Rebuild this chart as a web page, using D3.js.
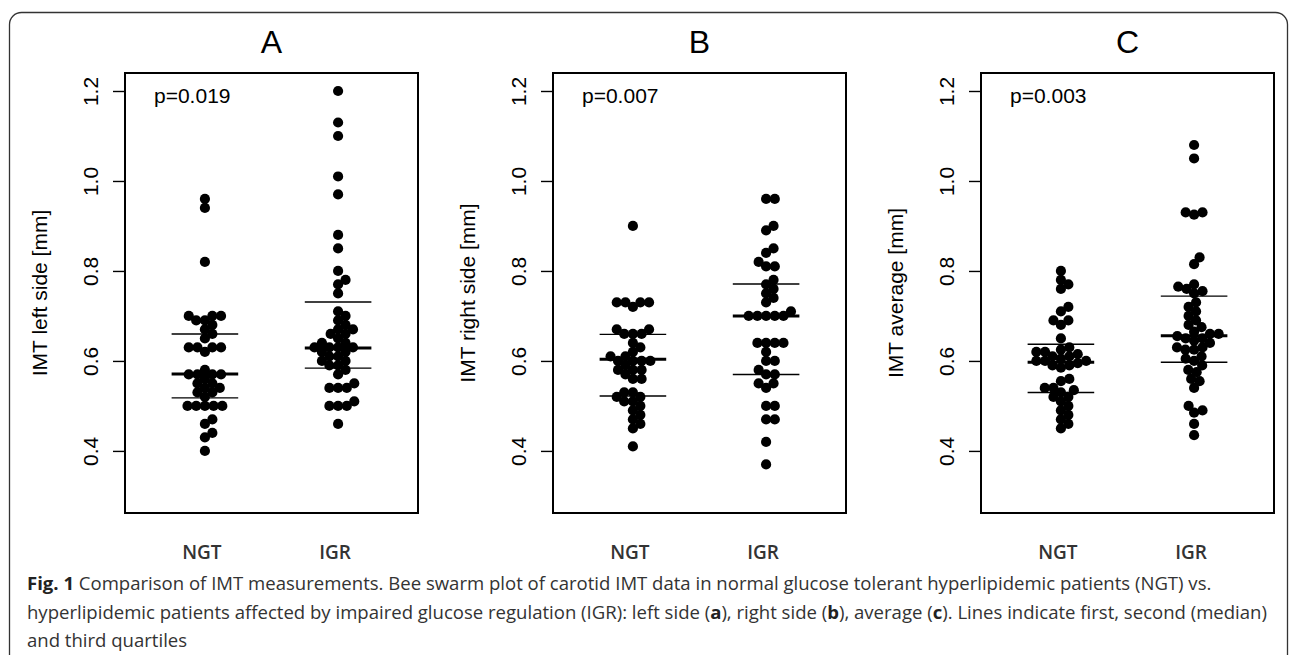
<!DOCTYPE html>
<html>
<head>
<meta charset="utf-8">
<script src="https://cdn.jsdelivr.net/npm/d3@7"></script>
<style>
  body { margin: 0; background: #fff; }
  svg { display: block; }
</style>
</head>
<body>
<svg id="fig"></svg>
<script>
const width = 1290;
const height = 655;

// panel labels and texts
const panelTitles = ["A", "B", "C"];
const yTitles = ["IMT left side [mm]", "IMT right side [mm]", "IMT average [mm]"];
const pTexts = ["p=0.019", "p=0.007", "p=0.003"];
const groups = ["NGT", "IGR"];
const yTicks = [0.4, 0.6, 0.8, 1.0, 1.2];

// IMT values (mm)
const leftNGT = [0.96, 0.94, 0.82,
  0.70, 0.70, 0.70, 0.69, 0.69, 0.68, 0.67, 0.66, 0.65,
  0.63, 0.63, 0.63, 0.63, 0.62,
  0.58, 0.57, 0.57, 0.57, 0.57, 0.56, 0.55, 0.55, 0.54, 0.54, 0.53, 0.53, 0.52,
  0.50, 0.50, 0.50, 0.50, 0.50,
  0.47, 0.46, 0.44, 0.43, 0.40];
const leftIGR = [1.20, 1.13, 1.10, 1.01, 0.97, 0.88, 0.85, 0.80, 0.78, 0.77, 0.75,
  0.71, 0.70, 0.69, 0.68, 0.67, 0.67, 0.66, 0.66, 0.65,
  0.64, 0.64, 0.63, 0.63, 0.63, 0.63, 0.62, 0.62,
  0.61, 0.61, 0.60, 0.60, 0.59, 0.59, 0.58,
  0.57, 0.55, 0.54, 0.54, 0.54,
  0.51, 0.50, 0.50, 0.50, 0.46];
const rightNGT = [0.90,
  0.73, 0.73, 0.73, 0.73, 0.72,
  0.67, 0.67, 0.66, 0.66, 0.66,
  0.64, 0.63, 0.62,
  0.61, 0.61, 0.60, 0.60, 0.60, 0.60, 0.59,
  0.58, 0.58, 0.58, 0.57, 0.56, 0.56,
  0.53, 0.53, 0.52, 0.52, 0.51, 0.51, 0.50,
  0.49, 0.48, 0.47, 0.46, 0.45, 0.41];
const rightIGR = [0.96, 0.96, 0.90, 0.89, 0.85, 0.84, 0.82, 0.81, 0.81,
  0.78, 0.77, 0.76, 0.75, 0.74, 0.73,
  0.71, 0.70, 0.70, 0.70, 0.70, 0.70,
  0.64, 0.64, 0.64, 0.64, 0.62,
  0.60, 0.60, 0.58, 0.57, 0.57, 0.55, 0.55, 0.54,
  0.50, 0.50, 0.47, 0.47, 0.42, 0.37];
const avgNGT = [0.80, 0.78, 0.77, 0.76,
  0.72, 0.71, 0.69, 0.69, 0.68, 0.65,
  0.63, 0.625, 0.62, 0.62, 0.615, 0.61, 0.61, 0.605, 0.60, 0.60, 0.60, 0.595, 0.59, 0.59, 0.585,
  0.56, 0.555, 0.54, 0.54, 0.535, 0.53, 0.52, 0.52, 0.51, 0.50, 0.49, 0.48, 0.47, 0.46, 0.45];
const avgIGR = [1.08, 1.05, 0.93, 0.93, 0.925, 0.83, 0.815, 0.77, 0.765, 0.76, 0.755, 0.75,
  0.73, 0.72, 0.71, 0.70, 0.69, 0.68, 0.675,
  0.665, 0.66, 0.66, 0.655, 0.65, 0.65, 0.645, 0.64, 0.63, 0.63, 0.625, 0.625,
  0.61, 0.605, 0.60, 0.59, 0.58, 0.575, 0.56, 0.555, 0.54,
  0.50, 0.49, 0.485, 0.46, 0.435];

// first quartile, median, third quartile (as drawn)
const leftNGTq = [0.518, 0.571, 0.660];
const leftIGRq = [0.584, 0.629, 0.731];
const rightNGTq = [0.522, 0.604, 0.659];
const rightIGRq = [0.570, 0.700, 0.771];
const avgNGTq = [0.530, 0.597, 0.637];
const avgIGRq = [0.597, 0.656, 0.744];

// caption pieces, [text, bold]
const captionLines = [
  [["Fig. 1", true], [" Comparison of IMT measurements. Bee swarm plot of carotid IMT data in normal glucose tolerant hyperlipidemic patients (NGT) vs.", false]],
  [["hyperlipidemic patients affected by impaired glucose regulation (IGR): left side (", false], ["a", true], ["), right side (", false], ["b", true], ["), average (", false], ["c", true], ["). Lines indicate first, second (median)", false]],
  [["and third quartiles", false]]
];

const panelData = [[leftNGT, leftIGR], [rightNGT, rightIGR], [avgNGT, avgIGR]];
const panelQ = [[leftNGTq, leftIGRq], [rightNGTq, rightIGRq], [avgNGTq, avgIGRq]];

const svg = d3.select("#fig").attr("width", width).attr("height", height);

// outer frame
svg.append("rect")
  .attr("x", 9.5).attr("y", 12.5)
  .attr("width", 1278).attr("height", 680)
  .attr("rx", 12)
  .attr("fill", "none").attr("stroke", "#333").attr("stroke-width", 1.3);

const boxLefts = [125, 553, 981];
const boxW = 293, boxTop = 73, boxBottom = 513;
const font = "'Liberation Sans', Arial, sans-serif";
const dotR = 5.1, spacing = 8.7;

// swarm layout like R's beeswarm (ascending priority)
function swarm(values, y) {
  const order = d3.range(values.length).sort((a, b) => values[a] - values[b]);
  const placed = [];
  const out = new Array(values.length);
  order.forEach(i => {
    const py = y(values[i]);
    const cands = [0];
    placed.forEach(p => {
      const dy = py - p.y;
      if (Math.abs(dy) < spacing) {
        const dx = Math.sqrt(spacing * spacing - dy * dy);
        cands.push(p.x + dx, p.x - dx);
      }
    });
    cands.sort((a, b) => Math.abs(a) - Math.abs(b));
    const px = cands.find(c => placed.every(p => {
      const ddx = c - p.x, ddy = py - p.y;
      return ddx * ddx + ddy * ddy >= spacing * spacing - 1e-6;
    }));
    placed.push({x: px, y: py});
    out[i] = {dx: px, y: py, v: values[i]};
  });
  return out;
}

panelTitles.forEach((title, k) => {
  const left = boxLefts[k];
  const g = svg.append("g");

  const y = d3.scaleLinear().domain([0.262, 1.24]).range([boxBottom, boxTop]);
  const x = d3.scaleLinear().domain([0.4, 2.6]).range([left, left + boxW]);

  // title
  g.append("text")
    .attr("x", left + boxW / 2).attr("y", 53)
    .attr("text-anchor", "middle")
    .attr("font-family", font).attr("font-size", 32)
    .text(title);

  // y axis
  const axis = g.append("g")
    .attr("transform", `translate(${left},0)`)
    .call(d3.axisLeft(y).tickValues(yTicks).tickFormat(d3.format(".1f")).tickSize(12));
  axis.select(".domain").remove();
  axis.selectAll("line").attr("stroke", "#000").attr("stroke-width", 1.4);
  axis.selectAll("text")
    .attr("x", null).attr("dy", null)
    .attr("transform", "translate(-27,0) rotate(-90)")
    .attr("text-anchor", "middle")
    .attr("font-family", font).attr("font-size", 21)
    .attr("fill", "#000");

  // y axis title
  g.append("text")
    .attr("transform", `translate(${left - 78},${(boxTop + boxBottom) / 2}) rotate(-90)`)
    .attr("text-anchor", "middle")
    .attr("font-family", font).attr("font-size", 21)
    .text(yTitles[k]);

  // p value
  g.append("text")
    .attr("x", left + 29).attr("y", 103)
    .attr("font-family", font).attr("font-size", 21)
    .text(pTexts[k]);

  groups.forEach((grp, j) => {
    const cx = x(j + 1);
    const pts = swarm(panelData[k][j], y);
    g.append("g")
      .selectAll("circle")
      .data(pts)
      .join("circle")
        .attr("cx", d => cx + d.dx)
        .attr("cy", d => d.y)
        .attr("r", dotR)
        .attr("fill", "#000");

    // quartile lines
    g.append("g")
      .selectAll("line")
      .data(panelQ[k][j])
      .join("line")
        .attr("x1", x(j + 1 - 0.25)).attr("x2", x(j + 1 + 0.25))
        .attr("y1", d => y(d)).attr("y2", d => y(d))
        .attr("stroke", "#000")
        .attr("stroke-width", (d, i) => i === 1 ? 3 : 1.4);

    // group label
    g.append("text")
      .attr("x", cx - 3).attr("y", 559)
      .attr("text-anchor", "middle")
      .attr("font-family", "'Open Sans', sans-serif")
      .attr("font-weight", 600)
      .attr("font-size", 19)
      .attr("fill", "#333")
      .text(grp);
  });

  // plot box
  g.append("rect")
    .attr("x", left).attr("y", boxTop)
    .attr("width", boxW).attr("height", boxBottom - boxTop)
    .attr("fill", "none").attr("stroke", "#000").attr("stroke-width", 2);
});

// caption
const cap = svg.append("g")
  .attr("font-family", "'Open Sans', sans-serif")
  .attr("fill", "#333");
const capBase = [590, 618.5, 647];
const lines = captionLines.map((parts, i) => {
  const t = cap.append("text").attr("x", 27).attr("y", capBase[i]).attr("font-size", 18);
  parts.forEach(([s, b]) => {
    t.append("tspan").attr("font-weight", b ? 700 : 400)
      .attr("fill", b ? "#222" : "#333").text(s);
  });
  return t;
});
// fit the first caption line to the width it has in the figure
const w1 = lines[0].node().getComputedTextLength();
const fs = 18 * 1185 / w1;
lines.forEach(t => t.attr("font-size", fs));
</script>
</body>
</html>
